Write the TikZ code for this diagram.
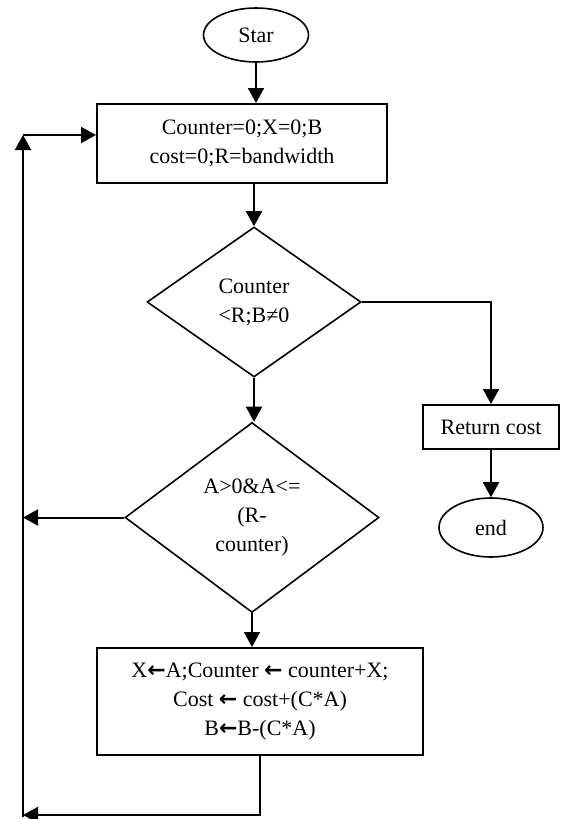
\documentclass[tikz,border=0pt]{standalone}
\usepackage{fontspec}
\setmainfont{Liberation Serif}
\newfontfamily\arrowfont{DejaVu Sans}
\newcommand{\lar}{{\arrowfont\bfseries ←}}
\usetikzlibrary{shapes.geometric,arrows.meta}
\begin{document}
\begin{tikzpicture}[x=1pt,y=-1pt,
        font=\fontsize{22}{29}\selectfont,
        box/.style={draw, line width=2pt, inner sep=0pt, align=center},
        term/.style={draw, ellipse, line width=1.6pt, inner sep=0pt},
        test/.style={draw, diamond, line width=1.6pt, inner sep=0pt, align=center},
        arr/.style={line width=2pt, -{Triangle[length=15pt,width=16pt]}}]
        \useasboundingbox (0,0) rectangle (560,819);

        \node[term, minimum width=105, minimum height=54] (start) at (256,35) {Star};
        \node[box, minimum width=290, minimum height=79] (init) at (242,143.5) {Counter=0;X=0;B\\cost=0;R=bandwidth};
        \node[test, minimum width=214, minimum height=150] (cond) at (254,302) {Counter\\<R;B≠0};
        \node[box, minimum width=136, minimum height=44] (ret) at (491,427) {Return cost};
        \node[term, minimum width=104, minimum height=59] (stop) at (491,527.5) {end};
        \node[test, minimum width=254, minimum height=190] (check) at (252,517.5) {A>0\&A<=\\(R-\\counter)};
        \node[box, minimum width=326, minimum height=107] (upd) at (260,701.5) {X\lar A;Counter \lar{} counter+X;\\Cost \lar{} cost+(C*A)\\B\lar B-(C*A)};

        \coordinate (ltop) at (23,135);
        \coordinate (lbot) at (23,817);
        \coordinate (lret) at (23,815);

        \draw[arr] (start.south) -- (start.south |- init.north);
        \draw[arr] (cond.north |- init.south) -- (cond.north);
        \draw[arr] (cond.east) -| (ret.north);
        \draw[arr] (ret.south) -- (stop.north);
        \draw[arr] (cond.south) -- (cond.south |- check.north);
        \draw[arr] (check.south) -- (check.south |- upd.north);
        \draw[arr] (check.west) -- (check.west -| ltop);
        \draw[arr] (upd.south) |- (lret);
        \draw[arr] (lbot) -- (ltop);
        \draw[arr] (ltop) -- (ltop -| init.west);
    \end{tikzpicture}
\end{document}
